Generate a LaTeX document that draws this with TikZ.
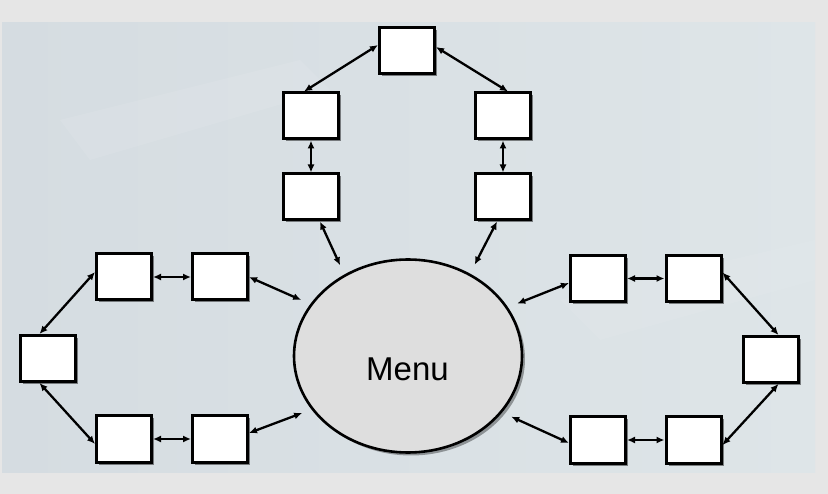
\documentclass[tikz,border=0pt]{standalone}
\usepackage{fontspec}
\newfontfamily\menufont{Liberation Sans}
\usetikzlibrary{arrows.meta,shadows,shapes.geometric}
\definecolor{outerbg}{HTML}{E6E6E6}
\definecolor{panelA}{HTML}{D5DCE1}
\definecolor{panelB}{HTML}{DEE5E8}
\definecolor{menufill}{HTML}{DEDEDE}
\tikzset{
  box/.style={draw=black, line width=3pt, fill=white, minimum width=55pt, minimum height=46pt, inner sep=0pt,
    drop shadow={shadow xshift=2.5pt, shadow yshift=-2.5pt, fill=black, opacity=0.45}},
  menushape/.style={ellipse, draw=black, line width=2.6pt, fill=menufill, minimum width=228pt, minimum height=193pt, inner sep=0pt,
    drop shadow={shadow xshift=3pt, shadow yshift=-3pt, fill=black, opacity=0.35}},
  link/.style={line width=2.3pt, {Latex[length=8pt,width=7pt]}-{Latex[length=8pt,width=7pt]}},
  tomenu/.style={link, shorten >=10pt},
}
\begin{document}
\begin{tikzpicture}[x=1pt,y=-1pt]
\useasboundingbox (0,0) rectangle (828,494);
\fill[outerbg] (0,0) rectangle (828,494);
\shade[left color=panelA, right color=panelB] (2,23) rectangle (815,472);
\fill[white, opacity=0.08] (60,120) -- (300,60) -- (330,90) -- (90,160) -- cycle;
\fill[white, opacity=0.06] (560,300) -- (815,240) -- (815,280) -- (600,340) -- cycle;

% nodes
\node[box] (T0) at (407,51) {};
\node[box] (TL1) at (311,116) {};
\node[box] (TL2) at (311,197) {};
\node[box] (TR1) at (503,116) {};
\node[box] (TR2) at (503,197) {};
\node[box] (L1) at (124,277) {};
\node[box] (L2) at (220,277) {};
\node[box] (LM) at (47.5,358.5) {};
\node[box] (LB1) at (124,439) {};
\node[box] (LB2) at (220,439) {};
\node[box] (R1) at (598,278.5) {};
\node[box] (R2) at (693.5,278.5) {};
\node[box] (RM) at (770.5,359.5) {};
\node[box] (RB1) at (598,440) {};
\node[box] (RB2) at (693.5,440) {};
\node[menushape] (menu) at (408,356) {};
\node[font=\menufont\fontsize{33}{36}\selectfont, inner sep=0pt] (menutext) at (407.5,369.5) {Menu};

% connectors top
\draw[link] ([yshift=6pt]T0.west) -- ([xshift=-7pt]TL1.north);
\draw[link] ([yshift=4pt]T0.east) -- ([xshift=5pt]TR1.north);
\draw[link] (TL1.south) -- (TL2.north);
\draw[link] (TR1.south) -- (TR2.north);
\draw[tomenu] ([xshift=9pt]TL2.south) -- (menu.128);
\draw[tomenu] ([xshift=-6pt]TR2.south) -- (menu.53);
% left
\draw[link] (L1.east) -- (L2.west);
\draw[tomenu] (L2.east) -- (menu.152);
\draw[link] ([yshift=5pt]L1.west) -- ([xshift=-8pt]LM.north);
\draw[link] ([xshift=-8pt]LM.south) -- ([yshift=-5pt]LB1.west);
\draw[link] (LB1.east) -- (LB2.west);
\draw[tomenu] ([yshift=6pt]LB2.east) -- (menu.209.6);
% right
\draw[tomenu] ([yshift=-4.5pt]R1.west) -- (menu.26.8);
\draw[link] (R1.east) -- (R2.west);
\draw[link] ([yshift=6pt]R2.east) -- ([xshift=8pt]RM.north);
\draw[link] ([xshift=8pt]RM.south) -- ([yshift=-5pt]RB2.east);
\draw[link] (RB1.east) -- (RB2.west);
\draw[tomenu] ([yshift=-3pt]RB1.west) -- (menu.329.8);
\end{tikzpicture}
\end{document}
